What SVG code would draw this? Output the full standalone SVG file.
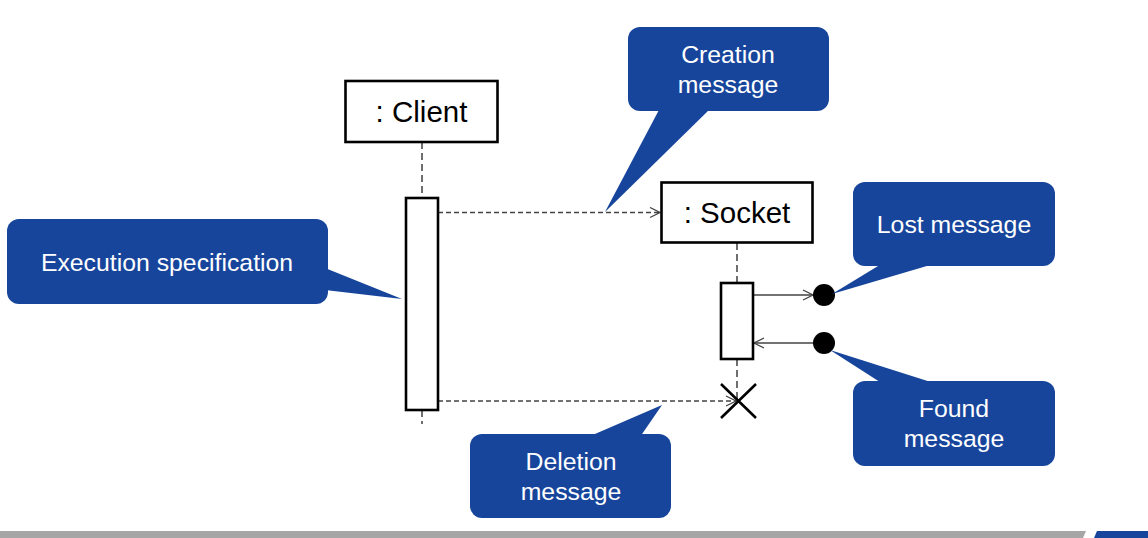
<svg xmlns="http://www.w3.org/2000/svg" width="1148" height="538" viewBox="0 0 1148 538">
<style>
.obj{fill:#fff;stroke:#000;stroke-width:2.6}
.objt{font-family:"Liberation Sans",Arial,sans-serif;font-size:29.5px;fill:#000;text-anchor:middle}
.life{stroke:#222;stroke-width:1.3;stroke-dasharray:7 4;fill:none}
.act{fill:#fff;stroke:#000;stroke-width:2.6}
.msgd{stroke:#444;stroke-width:1.3;stroke-dasharray:5 3;fill:none}
.msg{stroke:#444;stroke-width:1.3;fill:none}
.call{fill:#17459C}
.callt{font-family:"Liberation Sans",Arial,sans-serif;font-size:24.8px;fill:#fff;text-anchor:middle}
</style>
<defs>
<marker id="open" viewBox="0 0 12 12" refX="11" refY="6" markerWidth="12" markerHeight="12" markerUnits="userSpaceOnUse" orient="auto">
<path d="M1,1 L11,6 L1,11" fill="none" stroke="#444" stroke-width="1.3"/>
</marker>
</defs>
<rect width="1148" height="538" fill="#fff"/>

<g id="connectors">
<line class="life" x1="422" y1="142" x2="422" y2="198"/>
<line class="life" x1="422" y1="410" x2="422" y2="424"/>
<line class="life" x1="737" y1="243" x2="737" y2="283"/>
<line class="life" x1="737" y1="359" x2="737" y2="400"/>
<line class="msgd" x1="438" y1="212.5" x2="660" y2="212.5" marker-end="url(#open)"/>
<line class="msgd" x1="438" y1="401" x2="736" y2="401" marker-end="url(#open)"/>
<line class="msg" x1="753" y1="295" x2="813" y2="295" marker-end="url(#open)"/>
<line class="msg" x1="813" y1="343" x2="754" y2="343" marker-end="url(#open)"/>
</g>

<g id="client">
<rect class="obj" x="345.5" y="81" width="152" height="61"/>
<text class="objt" x="421.5" y="122">: Client</text>
</g>
<g id="client-activation">
<rect class="act" x="406" y="198" width="32" height="212"/>
</g>

<g id="socket">
<rect class="obj" x="661.5" y="182.5" width="151" height="60"/>
<text class="objt" x="737" y="223">: Socket</text>
</g>
<g id="socket-activation">
<rect class="act" x="721" y="283" width="32" height="76"/>
</g>
<g id="destruction">
<path d="M721,384 L756,418 M756,384 L721,418" stroke="#000" stroke-width="2.6" fill="none"/>
</g>

<g id="lost-point"><circle cx="824" cy="295" r="11" fill="#000"/></g>
<g id="found-point"><circle cx="824" cy="343" r="11" fill="#000"/></g>

<g id="callout-creation">
<rect class="call" x="628" y="27" width="201" height="84" rx="12"/>
<polygon class="call" points="660,108 711,108 605,212"/>
<text class="callt" x="728" y="63">Creation</text>
<text class="callt" x="728" y="93">message</text>
</g>

<g id="callout-execution">
<rect class="call" x="7" y="219" width="321" height="85" rx="12"/>
<polygon class="call" points="325,268 325,290 402,299"/>
<text class="callt" x="167" y="271">Execution specification</text>
</g>

<g id="callout-lost">
<rect class="call" x="853" y="182" width="202" height="84" rx="12"/>
<polygon class="call" points="883,263 937,263 832,294"/>
<text class="callt" x="954" y="233">Lost message</text>
</g>

<g id="callout-found">
<rect class="call" x="853" y="381" width="202" height="85" rx="12"/>
<polygon class="call" points="883,384 937,384 830,350"/>
<text class="callt" x="954" y="417">Found</text>
<text class="callt" x="954" y="447">message</text>
</g>

<g id="callout-deletion">
<rect class="call" x="470" y="434" width="201" height="84" rx="12"/>
<polygon class="call" points="588,437 640,437 662,405"/>
<text class="callt" x="571" y="470">Deletion</text>
<text class="callt" x="571" y="500">message</text>
</g>

<g id="footer">
<polygon points="0,531 1086,531 1083,538 0,538" fill="#A6A6A6"/>
<polygon points="1097,531 1148,531 1148,538 1094,538" fill="#17459C"/>
</g>
</svg>
